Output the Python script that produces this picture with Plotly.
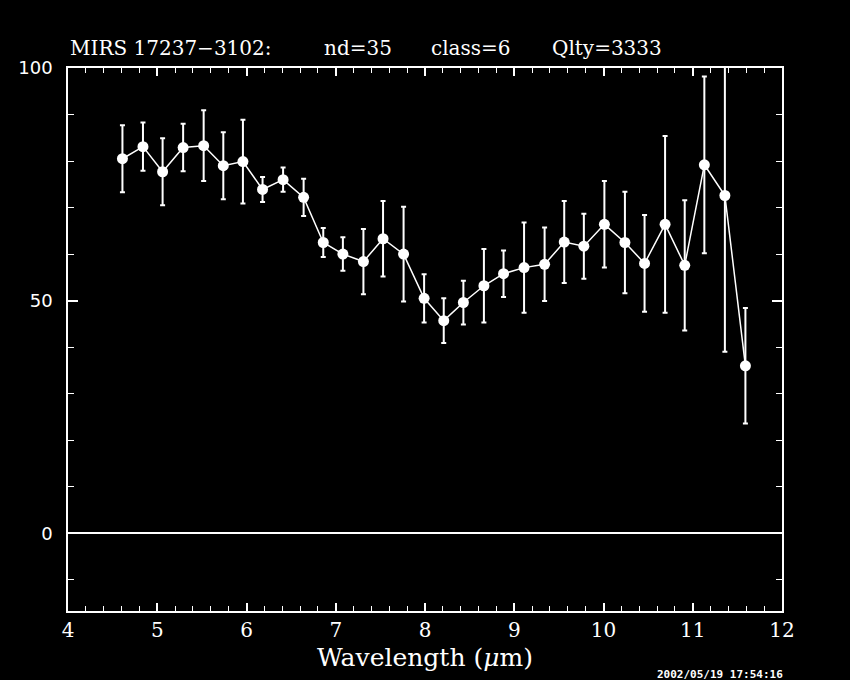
import plotly.graph_objects as go

# Data
wavelength = [4.61, 4.84, 5.06, 5.29, 5.52, 5.74, 5.96, 6.18, 6.41, 6.64,
              6.86, 7.08, 7.31, 7.53, 7.76, 7.99, 8.21, 8.43, 8.66, 8.88,
              9.11, 9.34, 9.56, 9.78, 10.01, 10.24, 10.46, 10.69, 10.91, 11.13,
              11.36, 11.59]
flux = [80.5, 83.1, 77.7, 82.9, 83.3, 79.0, 79.9, 73.9, 76.0, 72.2,
        62.5, 60.0, 58.4, 63.3, 60.0, 50.5, 45.7, 49.6, 53.2, 55.8,
        57.1, 57.8, 62.6, 61.7, 66.4, 62.5, 58.0, 66.4, 57.6, 79.2,
        72.6, 36.0]
flux_err = [7.2, 5.2, 7.2, 5.1, 7.6, 7.2, 9.0, 2.7, 2.6, 4.0,
            3.1, 3.6, 7.0, 8.1, 10.2, 5.2, 4.8, 4.7, 7.9, 5.0,
            9.7, 7.9, 8.8, 7.0, 9.3, 10.9, 10.4, 19.0, 14.0, 19.0,
            33.6, 12.4]

title_parts = ["MIRS 17237\u22123102:", "nd=35", "class=6", "Qlty=3333"]
title_pos = [0.0, 0.3553, 0.5052, 0.6748]
x_ticks = [4, 5, 6, 7, 8, 9, 10, 11, 12]
y_ticks = [0, 50, 100]
timestamp = "2002/05/19 17:54:16"

fig = go.Figure()
fig.add_trace(go.Scatter(
    x=wavelength, y=flux, mode="lines+markers",
    line=dict(color="white", width=1.5),
    marker=dict(color="white", size=11, symbol="circle"),
    error_y=dict(type="data", array=flux_err, visible=True,
                 color="white", thickness=2, width=2.5),
    showlegend=False,
))

fig.update_layout(
    width=850, height=680,
    paper_bgcolor="black", plot_bgcolor="black",
    margin=dict(l=68, r=68, t=68, b=69),
    font=dict(color="white"),
    xaxis=dict(
        range=[4, 12], tickvals=x_ticks, ticks="inside", ticklen=8,
        tickwidth=1.5, tickcolor="white",
        minor=dict(dtick=0.2, ticks="inside", ticklen=5, tickwidth=1, tickcolor="white"),
        showline=True, linecolor="white", linewidth=1.5, mirror="ticks",
        showgrid=False, zeroline=False,
        tickfont=dict(family="DejaVu Serif", size=20, color="white"),
        title=dict(text="Wavelength (<i>\u03bc</i>m)",
                   font=dict(family="DejaVu Serif", size=25, color="white"),
                   standoff=8),
    ),
    yaxis=dict(
        range=[-16.7, 100], tickvals=y_ticks, ticks="inside", ticklen=10,
        tickwidth=1.5, tickcolor="white",
        minor=dict(dtick=10, ticks="inside", ticklen=6, tickwidth=1, tickcolor="white"),
        showline=True, linecolor="white", linewidth=1.5, mirror="ticks",
        showgrid=False, zeroline=True, zerolinecolor="white", zerolinewidth=2,
        tickfont=dict(family="DejaVu Sans", size=18, color="white"),
        ticklabelstandoff=10,
    ),
)

for txt, px in zip(title_parts, title_pos):
    fig.add_annotation(text=txt, xref="paper", yref="paper", x=px, y=1,
                       xanchor="left", yanchor="bottom", yshift=6, showarrow=False,
                       font=dict(family="DejaVu Serif", size=20, color="white"))

fig.add_annotation(text="<b>" + timestamp + "</b>", xref="paper", yref="paper",
                   x=1.0, y=0, xanchor="right", yanchor="top", xshift=3, yshift=-55,
                   showarrow=False,
                   font=dict(family="DejaVu Sans Mono", size=11, color="white"))

fig.write_html(
    "out.html",
    config={"displayModeBar": False},
    post_script="document.body.style.margin='0';document.body.style.background='black';",
)
